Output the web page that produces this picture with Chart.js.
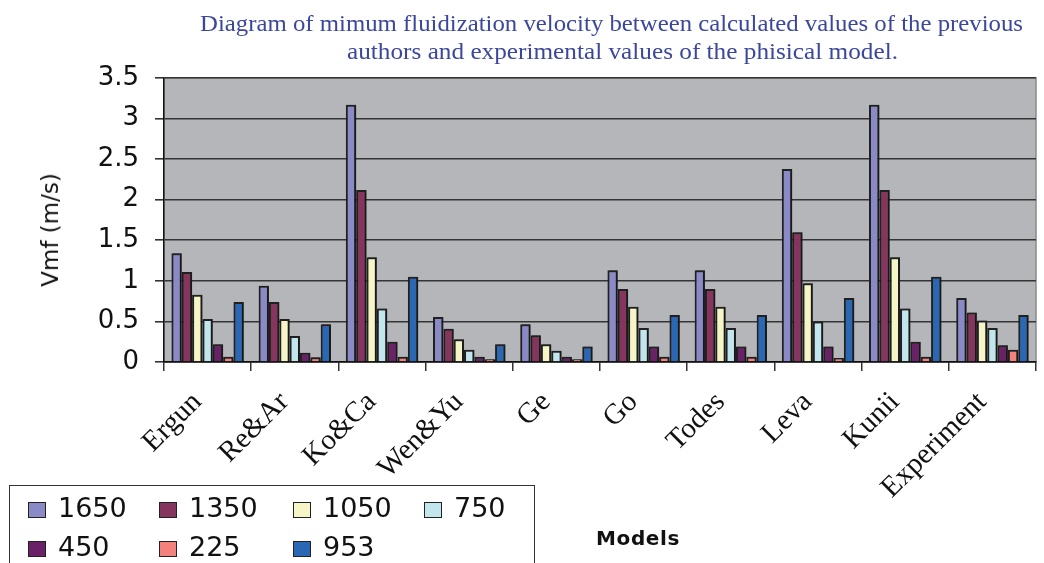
<!DOCTYPE html>
<html><head><meta charset="utf-8">
<script src="https://cdn.jsdelivr.net/npm/chart.js@4.4.0/dist/chart.umd.min.js"></script>
<style>
html,body{margin:0;padding:0;background:#fff;}
#wrap{position:relative;width:1044px;height:563px;overflow:hidden;background:#fff;}
#c{position:absolute;left:0;top:0;}
.t{position:absolute;white-space:nowrap;}
.ttl{font-family:"Liberation Serif","Times New Roman",serif;font-size:24px;color:#3b479c;line-height:28px;transform-origin:left top;}
#legend{position:absolute;left:9px;top:485px;width:526px;height:120px;border:1.5px solid #333;box-sizing:border-box;background:#fff;}
.sw{position:absolute;width:18px;height:16px;box-sizing:border-box;border:1.5px solid #222;}
.lt{position:absolute;font-family:"DejaVu Sans",sans-serif;font-size:27px;line-height:27px;color:#111;}
</style></head><body>
<div id="wrap">
<canvas id="c" width="1044" height="563"></canvas>
<div id="t1" class="t ttl" style="top:9px;">Diagram of mimum fluidization velocity between calculated values of the previous</div>
<div id="t2" class="t ttl" style="top:37px;">authors and experimental values of the phisical model.</div>
<div id="ytitle" class="t" style="font-family:'DejaVu Sans',sans-serif;font-size:23px;color:#111;left:50px;top:230px;transform:translate(-50%,-50%) rotate(-90deg);">Vmf (m/s)</div>
<div id="xtitle" class="t" style="font-family:'DejaVu Sans',sans-serif;font-weight:bold;font-size:20px;letter-spacing:0.6px;color:#111;left:638px;top:538px;transform:translate(-50%,-50%);">Models</div>
<div id="legend"></div>
</div>
<script>
const categories = ['Ergun','Re&Ar','Ko&Ca','Wen&Yu','Ge','Go','Todes','Leva','Kunii','Experiment'];
const seriesLabels = ['1650','1350','1050','750','450','225','953'];
const seriesColors = ['#8a8ac6','#86365e','#f5f5c6','#c2e6ee','#6b2167','#f4827c','#2b68b3'];
const v1650 = [1.34,0.94,3.17,0.555,0.465,1.13,1.13,2.38,3.17,0.79];
const v1350 = [1.11,0.74,2.12,0.41,0.33,0.90,0.90,1.60,2.12,0.61];
const v1050 = [0.83,0.53,1.29,0.28,0.22,0.68,0.68,0.97,1.29,0.51];
const v750  = [0.53,0.32,0.66,0.15,0.14,0.42,0.42,0.50,0.66,0.42];
const v450  = [0.22,0.115,0.25,0.065,0.065,0.19,0.19,0.19,0.25,0.205];
const v225  = [0.065,0.058,0.065,0.033,0.033,0.065,0.065,0.05,0.065,0.15];
const v953  = [0.74,0.465,1.05,0.22,0.19,0.58,0.58,0.79,1.05,0.58];
const yTicks = [0,0.5,1,1.5,2,2.5,3,3.5];
const seriesValues = [v1650,v1350,v1050,v750,v450,v225,v953];

function fitTitle(id, left, width){
  const el=document.getElementById(id);
  const w=el.getBoundingClientRect().width;
  el.style.left=left+'px';
  el.style.transform='scaleX('+(width/w)+')';
}
fitTitle('t1',200,823);
fitTitle('t2',347,551);

const lg=document.getElementById('legend');
const colX=[18,149,283,414];
seriesLabels.forEach((lab,i)=>{
  const r=Math.floor(i/4), c=i%4;
  const sw=document.createElement('div');
  sw.className='sw';
  sw.style.left=colX[c]+'px';
  sw.style.top=(16+r*39)+'px';
  sw.style.background=seriesColors[i];
  lg.appendChild(sw);
  const t=document.createElement('div');
  t.className='lt';
  t.textContent=lab;
  t.style.left=(colX[c]+30)+'px';
  t.style.top=(8+r*39)+'px';
  lg.appendChild(t);
});

const bgPlugin={
  id:'bg',
  beforeDraw(chart){
    const {ctx,chartArea:a}=chart;
    ctx.save();
    ctx.fillStyle='#b5b6ba';
    ctx.fillRect(a.left,a.top,a.right-a.left,a.bottom-a.top);
    ctx.strokeStyle='#8a8a8e';
    ctx.lineWidth=1.5;
    ctx.strokeRect(a.left,a.top,a.right-a.left,a.bottom-a.top);
    ctx.restore();
  },
  beforeDatasetsDraw(chart){
    const ctx=chart.ctx;
    ctx.save();
    ctx.shadowColor='rgba(20,20,20,0.6)';
    ctx.shadowOffsetX=1.5;
    ctx.shadowOffsetY=0;
    ctx.shadowBlur=0;
  },
  afterDatasetsDraw(chart){
    chart.ctx.restore();
  }
};

new Chart(document.getElementById('c'),{
  type:'bar',
  data:{
    labels:categories,
    datasets:seriesLabels.map((lab,i)=>({
      label:lab,
      data:seriesValues[i],
      backgroundColor:seriesColors[i],
      borderColor:'#202020',
      borderWidth:{top:2,left:2,right:2,bottom:0},
      borderSkipped:false,
      categoryPercentage:0.83,
      barPercentage:1.0
    }))
  },
  options:{
    responsive:false,
    animation:false,
    devicePixelRatio:1,
    layout:{padding:{top:78,right:8,left:0,bottom:0}},
    plugins:{legend:{display:false},tooltip:{enabled:false},title:{display:false}},
    scales:{
      x:{
        afterFit(s){s.height=201;},
        grid:{display:true,drawOnChartArea:false,drawTicks:true,tickLength:9,offset:true,color:'#333',lineWidth:1.5},
        border:{display:true,color:'#111',width:1.5},
        ticks:{autoSkip:false,maxRotation:45,minRotation:45,padding:4,color:'#111',
          font:{family:'"Liberation Serif","Times New Roman",serif',size:29},
          callback:function(v,i){return this.getLabelForValue(v)+'\u00a0\u00a0';}}
      },
      y:{
        min:0,max:3.5,
        afterFit(s){s.width=164;},
        afterBuildTicks(s){s.ticks=yTicks.map(v=>({value:v}));},
        grid:{color:'#343434',lineWidth:1.6,tickLength:9,drawTicks:true},
        border:{display:true,color:'#111',width:1.5},
        ticks:{padding:16,color:'#111',font:{family:'"DejaVu Sans",sans-serif',size:26},
          callback:v=>String(v)}
      }
    }
  },
  plugins:[bgPlugin]
});
</script>
</body></html>
